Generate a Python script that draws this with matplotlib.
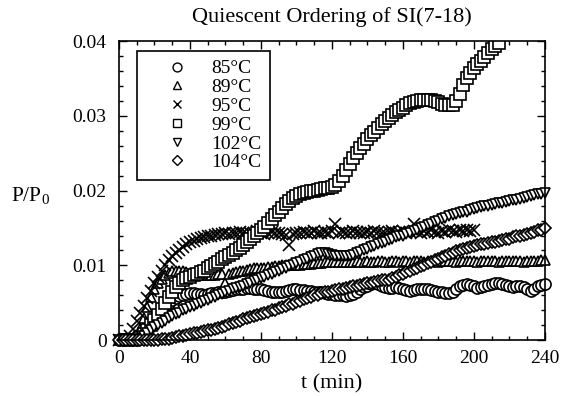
import numpy as np
import matplotlib
matplotlib.use("Agg")
import matplotlib.pyplot as plt
from matplotlib.ticker import MultipleLocator

plt.rcParams['font.family'] = ['Liberation Serif', 'DejaVu Serif']
plt.rcParams['mathtext.fontset'] = 'custom'
plt.rcParams['mathtext.rm'] = 'Liberation Serif'

# time axis (min), sampled every 2 min
t_all = list(range(0, 242, 2))

# P/P0 values in units of 1e-3
p85 = [0, 0, 0, 0, 0, 0, 0.1, 0.5, 1.2, 2.0, 2.7, 3.4, 4.0, 4.6, 5.0, 5.4, 5.7, 5.9, 6.1, 6.2,
       6.3, 6.3, 6.2, 6.2, 6.1, 6.2, 6.3, 6.3, 6.4, 6.5, 6.5, 6.6, 6.7, 6.8, 6.9, 6.9, 7.0, 7.0, 6.9, 6.8,
       6.8, 6.7, 6.6, 6.5, 6.4, 6.4, 6.5, 6.6, 6.7, 6.8, 6.8, 6.7, 6.7, 6.6, 6.6, 6.5, 6.5, 6.4, 6.3, 6.2,
       6.2, 6.1, 6.0, 6.0, 5.9, 6.0, 6.2, 6.5, 6.8, 7.1, 7.3, 7.5, 7.6, 7.5, 7.3, 7.1, 7.0, 7.0, 7.1, 7.0,
       6.8, 6.7, 6.6, 6.7, 6.8, 6.9, 6.9, 6.8, 6.7, 6.6, 6.5, 6.4, 6.3, 6.3, 6.5, 6.9, 7.2, 7.4, 7.5, 7.4,
       7.2, 7.0, 7.1, 7.3, 7.4, 7.5, 7.6, 7.6, 7.5, 7.4, 7.2, 7.1, 7.2, 7.3, 7.1, 6.8, 6.6, 6.8, 7.2, 7.4,
       7.5]

p89 = [0, 0, 0, 0, 0, 0, 1.5, 3.0, 4.5, 5.8, 6.8, 7.6, 8.2, 8.7, 9.0, 9.2, 9.3, 9.3, 9.2, 9.1,
       9.0, 8.9, 8.8, 8.7, 8.7, 8.7, 8.7, 8.7, 8.8, 8.8, 7.6, 8.9, 9.0, 9.1, 9.2, 9.3, 9.4, 9.5, 9.6, 9.6,
       9.7, 9.7, 9.8, 9.8, 9.9, 9.9, 10.0, 10.0, 10.0, 10.1, 10.1, 10.1, 10.2, 10.2, 10.2, 10.3, 10.3, 10.3, 10.4, 10.4,
       10.4, 10.4, 10.5, 10.5, 10.4, 10.5, 10.5, 10.6, 10.5, 10.5, 10.6, 10.5, 10.5, 10.6, 10.6, 10.5, 10.5, 10.6, 10.6, 10.5,
       10.6, 10.6, 10.5, 10.6, 10.6, 10.6, 10.5, 10.6, 10.6, 10.6, 10.5, 10.6, 10.6, 10.6, 10.6, 10.5, 10.6, 10.6, 10.6, 10.6,
       10.6, 10.5, 10.6, 10.6, 10.6, 10.6, 10.6, 10.5, 10.6, 10.6, 10.6, 10.6, 10.6, 10.6, 10.5, 10.6, 10.6, 10.6, 10.6, 10.7,
       10.7]

p95 = [0, 0, 0, 0.5, 1.5, 2.6, 3.6, 4.6, 5.6, 6.6, 7.6, 8.5, 9.3, 10.0, 10.7, 11.2, 11.7, 12.1, 12.5, 12.8,
       13.1, 13.3, 13.5, 13.7, 13.8, 13.9, 14.0, 14.1, 14.2, 14.2, 14.3, 14.2, 14.4, 14.3, 14.5, 14.3, 14.2, 14.4, 14.3, 14.6,
       14.4, 14.2, 14.3, 14.5, 14.4, 14.3, 14.2, 14.1, 12.7, 14.2, 14.3, 14.4, 14.5, 14.3, 14.4, 14.6, 14.4, 14.3, 14.5, 14.4,
       14.6, 15.6, 14.4, 14.5, 14.3, 14.4, 14.6, 14.5, 14.3, 14.4, 14.5, 14.4, 14.6, 14.5, 14.4, 14.3, 14.5, 14.6, 14.4, 14.5,
       14.6, 14.4, 14.5, 15.6, 14.5, 14.4, 14.6, 14.5, 14.7, 14.5, 14.4, 14.6, 14.5, 14.7, 14.6, 14.5, 14.7, 14.6, 14.8, 14.6,
       14.7]

p99 = [0, 0, 0, 0, 0, 0, 0.3, 0.8, 1.4, 2.0, 2.7, 3.4, 4.2, 5.0, 5.8, 6.5, 7.1, 7.6, 8.0, 8.3,
       8.5, 8.7, 8.9, 9.1, 9.3, 9.6, 9.9, 10.2, 10.5, 10.8, 11.1, 11.4, 11.7, 12.0, 12.3, 12.7, 13.1, 13.5, 13.9, 14.3,
       14.7, 15.2, 15.7, 16.2, 16.7, 17.2, 17.7, 18.2, 18.6, 19.0, 19.3, 19.5, 19.7, 19.8, 19.9, 20.0, 20.1, 20.2, 20.3, 20.4,
       20.5, 20.8, 21.3, 22.0, 22.8, 23.6, 24.4, 25.1, 25.7, 26.3, 26.9, 27.4, 27.9, 28.4, 28.9, 29.3, 29.7, 30.1, 30.5, 30.8,
       31.1, 31.4, 31.7, 31.9, 32.0, 32.1, 32.1, 32.1, 32.1, 32.0, 31.8, 31.6, 31.5, 31.4, 31.5, 32.0, 33.0, 34.1, 35.1, 35.8,
       36.4, 36.9, 37.4, 37.9, 38.4, 38.9, 39.4, 39.8]

p102 = [0, 0, 0, 0, 0, 0, 0.2, 0.5, 0.9, 1.3, 1.7, 2.0, 2.3, 2.6, 2.9, 3.2, 3.5, 3.7, 4.0, 4.2,
        4.4, 4.6, 4.8, 5.0, 5.2, 5.4, 5.6, 5.8, 6.0, 6.2, 6.4, 6.6, 6.8, 7.0, 7.1, 7.3, 7.5, 7.7, 7.9, 8.1,
        8.3, 8.5, 8.7, 8.9, 9.1, 9.3, 9.5, 9.7, 9.9, 10.1, 10.3, 10.5, 10.7, 10.9, 11.1, 11.3, 11.5, 11.6, 11.6, 11.5,
        11.4, 11.3, 11.2, 11.2, 11.2, 11.3, 11.4, 11.6, 11.8, 12.0, 12.2, 12.4, 12.6, 12.8, 13.0, 13.2, 13.4, 13.6, 13.8, 13.9,
        14.0, 14.2, 14.4, 14.6, 14.8, 15.0, 15.2, 15.4, 15.6, 15.8, 16.0, 16.2, 16.4, 16.6, 16.8, 16.9, 17.0, 17.1, 17.2, 17.4,
        17.6, 17.7, 17.8, 17.9, 18.0, 18.1, 18.2, 18.3, 18.4, 18.5, 18.6, 18.7, 18.8, 18.9, 19.0, 19.2, 19.3, 19.4, 19.5, 19.6,
        19.7]

p104 = [0, 0, 0, 0, 0, 0, 0, 0, 0, 0, 0, 0.05, 0.1, 0.15, 0.2, 0.3, 0.4, 0.5, 0.6, 0.7,
        0.8, 0.9, 1.0, 1.1, 1.2, 1.3, 1.4, 1.5, 1.6, 1.8, 1.9, 2.1, 2.3, 2.4, 2.6, 2.8, 2.9, 3.1, 3.2, 3.4,
        3.5, 3.7, 3.8, 4.0, 4.1, 4.3, 4.4, 4.6, 4.8, 4.9, 5.1, 5.3, 5.5, 5.7, 5.8, 6.0, 6.1, 6.3, 6.4, 6.5,
        6.6, 6.7, 6.8, 6.9, 7.0, 7.1, 7.2, 7.3, 7.4, 7.5, 7.6, 7.7, 7.8, 7.9, 8.0, 8.0, 8.1, 8.3, 8.5, 8.7,
        8.9, 9.1, 9.3, 9.5, 9.7, 9.9, 10.1, 10.3, 10.5, 10.7, 10.9, 11.1, 11.3, 11.5, 11.7, 11.9, 12.0, 12.2, 12.3, 12.5,
        12.6, 12.7, 12.8, 12.9, 13.0, 13.1, 13.2, 13.3, 13.4, 13.5, 13.6, 13.8, 13.9, 14.0, 14.1, 14.2, 14.3, 14.5, 14.7, 14.8,
        15.0]

labels = ['85°C', '89°C', '95°C', '99°C', '102°C', '104°C']
markers = ['o', '^', 'x', 's', 'v', 'D']
series = [p85, p89, p95, p99, p102, p104]

x_ticks = [0, 40, 80, 120, 160, 200, 240]
y_ticks = [0, 0.01, 0.02, 0.03, 0.04]
y_tick_labels = ['0', '0.01', '0.02', '0.03', '0.04']

fig = plt.figure(figsize=(5.64, 3.96), dpi=100)
ax = fig.add_axes([0.211, 0.141, 0.755, 0.755])

sizes = {'o': 8, '^': 7.5, 'x': 8, 's': 8, 'v': 7.5, 'D': 6}
for vals, lab, m in zip(series, labels, markers):
    tt = np.array(t_all[:len(vals)])
    yy = np.array(vals) * 1e-3
    ax.plot(tt, yy, linestyle='none', marker=m, markersize=sizes[m],
            markerfacecolor='white' if m != 'x' else 'black', markeredgecolor='black',
            markeredgewidth=1.2, label=lab, clip_on=(m == 's'))

ax.set_xlim(0, 240)
ax.set_ylim(0, 0.04)
ax.set_xticks(x_ticks)
ax.set_xticklabels([str(v) for v in x_ticks])
ax.set_yticks(y_ticks)
ax.set_yticklabels(y_tick_labels)
ax.xaxis.set_minor_locator(MultipleLocator(10))
ax.yaxis.set_minor_locator(MultipleLocator(0.002))
ax.tick_params(which='both', direction='in', top=True, right=True, labelsize=14, width=1)
ax.tick_params(which='major', length=6)
ax.tick_params(which='minor', length=3)
ax.tick_params(axis='y', pad=9)
ax.tick_params(axis='x', pad=7)
for s in ax.spines.values():
    s.set_linewidth(1.2)

ax.set_title('Quiescent Ordering of SI(7-18)', fontsize=16, pad=14)
ax.set_xlabel('t (min)', fontsize=16, labelpad=5)
ax.text(-0.207, 0.48, r'P/P$_\mathregular{0}$', transform=ax.transAxes, fontsize=15.5,
        ha='center', va='center')

leg = ax.legend(loc='upper left', bbox_to_anchor=(0.042, 0.967), borderaxespad=0,
                fancybox=False, edgecolor='black', framealpha=1, fontsize=14,
                labelspacing=0.06, handletextpad=0.16, handlelength=3.2, borderpad=0.45,
                markerscale=0.8)
leg.get_frame().set_linewidth(1.2)
for h in leg.legend_handles:
    h.set_markerfacecolor('white')
    h.set_markeredgewidth(1.0)

fig.savefig('out.png', dpi=100)
